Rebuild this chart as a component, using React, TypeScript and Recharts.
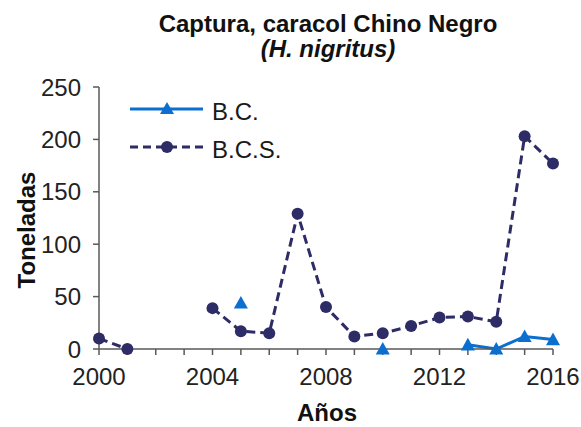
import React from 'react';
import { LineChart, Line, XAxis, YAxis } from 'recharts';

// años y capturas (toneladas)
const years = [2000, 2001, 2002, 2003, 2004, 2005, 2006, 2007, 2008, 2009, 2010, 2011, 2012, 2013, 2014, 2015, 2016];
const bc = [null, null, null, null, null, 44, null, null, null, null, 0, null, null, 4, 0, 12, 9];
const bcs = [10, 0, null, null, 39, 17, 15, 129, 40, 12, 15, 22, 30, 31, 26, 203, 177];
const xLabels = [2000, 2004, 2008, 2012, 2016];
const yTicks = [0, 50, 100, 150, 200, 250];
const seriesNames = ['B.C.', 'B.C.S.'];

const data = years.map((y, i) => ({ year: y, bc: bc[i], bcs: bcs[i] }));

const FONT = '"Liberation Sans", Arial, sans-serif';
const BLUE = '#0b6fd0';
const NAVY = '#2d2c66';
const AXIS = '#595959';

const Triangle = (props: any) => {
  const { cx, cy, value } = props;
  if (value === null || value === undefined || cx == null || cy == null) return null;
  const s = 7;
  return (
    <polygon
      points={`${cx},${cy - s} ${cx - s},${cy + s * 0.8} ${cx + s},${cy + s * 0.8}`}
      fill={BLUE}
    />
  );
};

// leyenda dibujada aparte para no mover el área del gráfico
const LegendBox = () => (
  <svg width={220} height={80} style={{ position: 'absolute', left: 125, top: 95 }}>
    {seriesNames.map((name, i) => {
      const y = 14 + i * 38;
      const isBC = i === 0;
      const color = isBC ? BLUE : NAVY;
      return (
        <g key={name}>
          <line
            x1={5}
            x2={78}
            y1={y}
            y2={y}
            stroke={color}
            strokeWidth={3}
            strokeDasharray={isBC ? undefined : '8 5'}
          />
          {isBC ? (
            <polygon points={`42,${y - 7} 35,${y + 5} 49,${y + 5}`} fill={BLUE} />
          ) : (
            <circle cx={42} cy={y} r={6} fill={NAVY} />
          )}
          <text x={87} y={y + 2} dominantBaseline="central" fontFamily={FONT} fontSize={24} fill="#1a1a1a">
            {name}
          </text>
        </g>
      );
    })}
  </svg>
);

export default function App() {
  return (
    <div style={{ position: 'absolute', left: 0, top: 0, width: 581, height: 427, background: '#fff' }}>
      <div style={{ position: 'absolute', left: 0, top: 0 }}>
        <LineChart width={581} height={427} data={data} margin={{ top: 87, right: 28, left: 0, bottom: 0 }}>
          <XAxis
            dataKey="year"
            type="number"
            domain={[2000, 2016]}
            ticks={years}
            interval={0}
            tickFormatter={(v: number) => (xLabels.includes(v) ? String(v) : '')}
            height={78}
            stroke={AXIS}
            strokeWidth={1.5}
            tickSize={6}
            tickMargin={13}
            tick={{ fill: '#222', fontSize: 24, fontFamily: FONT }}
            label={{
              content: () => (
                <text x={327} y={412} textAnchor="middle" dominantBaseline="central" fontFamily={FONT} fontWeight="bold" fontSize={24} fill="#111">
                  Años
                </text>
              ),
            }}
          />
          <YAxis
            type="number"
            domain={[0, 250]}
            ticks={yTicks}
            interval={0}
            width={99}
            stroke={AXIS}
            strokeWidth={1.5}
            tickSize={6}
            tickMargin={12}
            tick={{ fill: '#222', fontSize: 24, fontFamily: FONT }}
            label={{
              content: () => (
                <text
                  x={26}
                  y={230}
                  transform="rotate(-90 26 230)"
                  textAnchor="middle"
                  dominantBaseline="central"
                  fontFamily={FONT}
                  fontWeight="bold"
                  fontSize={24}
                  fill="#111"
                >
                  Toneladas
                </text>
              ),
            }}
          />
          <Line
            dataKey="bc"
            name={seriesNames[0]}
            stroke={BLUE}
            strokeWidth={3}
            dot={<Triangle />}
            activeDot={false}
            connectNulls={false}
            isAnimationActive={false}
          />
          <Line
            dataKey="bcs"
            name={seriesNames[1]}
            stroke={NAVY}
            strokeWidth={3}
            strokeDasharray="9 5"
            dot={{ r: 6, fill: NAVY, stroke: NAVY, strokeWidth: 0 }}
            activeDot={false}
            connectNulls={false}
            isAnimationActive={false}
          />
        </LineChart>
      </div>
      <LegendBox />
      <div
        style={{
          position: 'absolute',
          left: 128,
          width: 400,
          top: 12,
          textAlign: 'center',
          fontFamily: FONT,
          fontWeight: 'bold',
          fontSize: 24,
          lineHeight: '24px',
          color: '#111',
        }}
      >
        <div>Captura, caracol Chino Negro</div>
        <div style={{ fontStyle: 'italic', marginTop: 1 }}>(H. nigritus)</div>
      </div>
    </div>
  );
}
